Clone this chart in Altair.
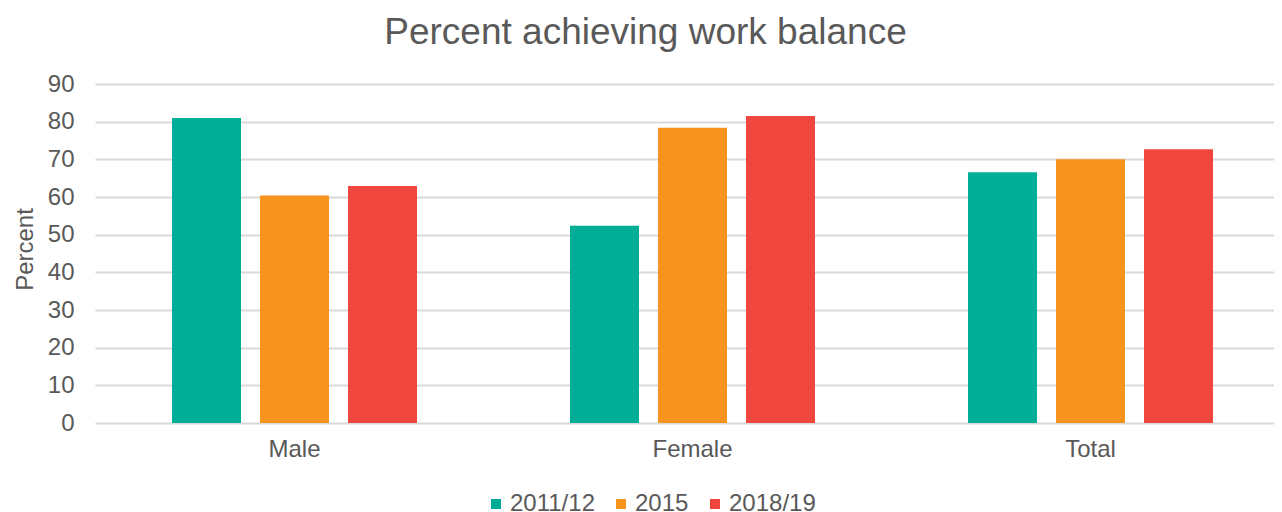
import altair as alt
import pandas as pd

groups = ["Male", "Female", "Total"]
years = ["2011/12", "2015", "2018/19"]
v_2011 = [81.0, 52.4, 66.6]
v_2015 = [60.4, 78.4, 70.0]
v_2018 = [62.9, 81.5, 72.7]
colors = ["#00AE98", "#F7941E", "#EF473D"]

rows = []
for i, g in enumerate(groups):
    for y, vals in zip(years, [v_2011, v_2015, v_2018]):
        rows.append({"group": g, "year": y, "value": vals[i]})
df = pd.DataFrame(rows)

FONT = "Liberation Sans"
GREY = "#595959"

chart = alt.Chart(df).mark_bar().encode(
    x=alt.X("group:N", sort=groups,
            scale=alt.Scale(domain=groups, paddingInner=0.3844, paddingOuter=0.1734, align=0.558),
            axis=alt.Axis(title=None, labelAngle=0, labelFontSize=24, labelColor=GREY, labelFont=FONT,
                          ticks=False, tickSize=0, domain=False, labelPadding=14, grid=False)),
    xOffset=alt.XOffset("year:N", sort=years,
                        scale=alt.Scale(domain=years, paddingInner=0.216, paddingOuter=0)),
    y=alt.Y("value:Q",
            scale=alt.Scale(domain=[0, 90], nice=False),
            axis=alt.Axis(title="Percent", values=list(range(0, 91, 10)), labelFontSize=24, labelColor=GREY,
                          labelFont=FONT, titleFont=FONT, titleFontSize=24, titleColor=GREY,
                          titleFontWeight="normal", ticks=False, tickSize=0, domain=False,
                          labelPadding=21, gridColor="#D9D9D9", gridWidth=2,
                          titleX=-58, titleY=165)),
    color=alt.Color("year:N", sort=years,
                    scale=alt.Scale(domain=years, range=colors),
                    legend=alt.Legend(title=None, orient="none", legendX=389, legendY=408,
                                      direction="horizontal", symbolType="square", symbolSize=100,
                                      symbolStrokeWidth=0, labelFontSize=24, labelColor=GREY,
                                      labelFont=FONT, labelOffset=2, columnPadding=14, padding=0)),
).properties(
    width=1179,
    height=339,
    title=alt.TitleParams("Percent achieving work balance", fontSize=37, color=GREY, font=FONT,
                          fontWeight="normal", anchor="middle", dx=-39, baseline="bottom",
                          offset=32, dy=49),
    autosize=alt.AutoSizeParams(type="none"),
    padding={"left": 87, "top": 76, "right": 0, "bottom": 89},
).configure_view(stroke=None)

chart.save("out.html", embed_options={"renderer": "svg", "actions": False})
